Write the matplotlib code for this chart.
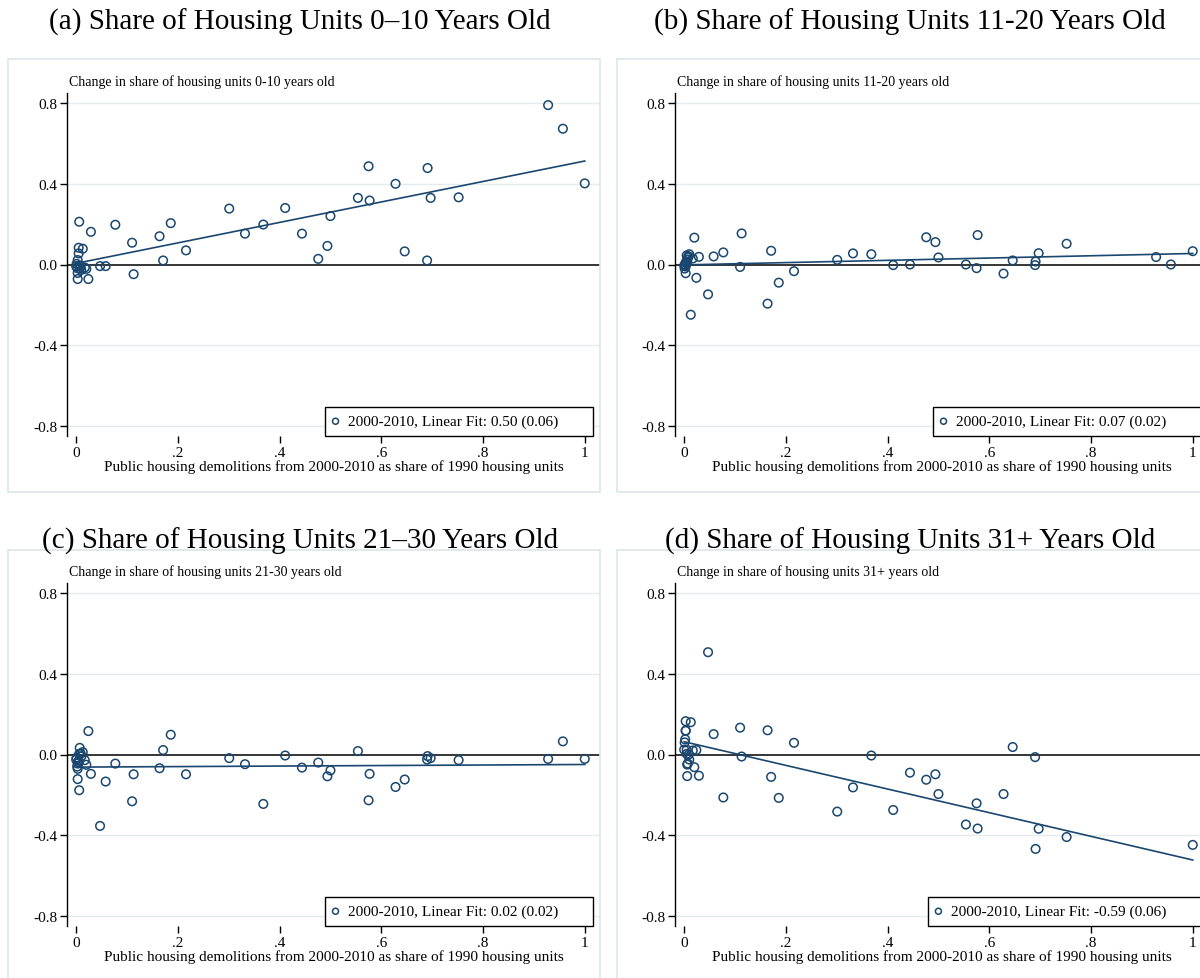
import numpy as np
import matplotlib
matplotlib.use("Agg")
import matplotlib.pyplot as plt
from matplotlib.patches import Rectangle

plt.rcParams['font.family'] = ['Liberation Serif', 'DejaVu Serif']

# demolitions 2000-2010 as share of 1990 housing units (same tracts in every panel)
demo_share = [1.000, 0.957, 0.928, 0.752, 0.697, 0.691, 0.690, 0.646, 0.628, 0.577,
              0.575, 0.554, 0.500, 0.494, 0.476, 0.444, 0.411, 0.368, 0.332, 0.301,
              0.216, 0.186, 0.171, 0.164, 0.113, 0.110, 0.077, 0.058, 0.047, 0.029,
              0.024, 0.020, 0.017, 0.013, 0.010, 0.009, 0.007, 0.006, 0.006, 0.005,
              0.005, 0.003, 0.003, 0.003, 0.002, 0.001, 0.000]

chg_0_10 = [0.402, 0.673, 0.790, 0.333, 0.330, 0.478, 0.020, 0.065, 0.400, 0.317,
            0.487, 0.330, 0.240, 0.092, 0.028, 0.153, 0.280, 0.198, 0.153, 0.277,
            0.070, 0.205, 0.020, 0.140, -0.048, 0.108, 0.197, -0.008, -0.008, 0.162,
            -0.072, -0.022, -0.015, 0.078, -0.027, -0.010, -0.020, 0.212, -0.005, 0.083,
            0.055, 0.022, -0.042, -0.072, -0.018, 0.003, -0.008]

chg_11_20 = [0.066, 0.000, 0.037, 0.103, 0.056, 0.015, -0.003, 0.020, -0.045, 0.146,
             -0.018, 0.000, 0.035, 0.111, 0.135, 0.000, -0.003, 0.051, 0.055, 0.023,
             -0.033, -0.090, 0.068, -0.194, 0.154, -0.012, 0.060, 0.040, -0.148, 0.038,
             -0.066, 0.133, 0.030, -0.249, 0.051, 0.040, 0.035, 0.025, 0.015, 0.045,
             0.005, -0.043, 0.010, -0.010, 0.000, -0.020, -0.005]

chg_21_30 = [-0.022, 0.065, -0.022, -0.028, -0.018, -0.008, -0.025, -0.124, -0.161, -0.096,
             -0.227, 0.017, -0.079, -0.108, -0.040, -0.065, -0.005, -0.245, -0.048, -0.018,
             -0.098, 0.098, 0.022, -0.068, -0.098, -0.232, -0.045, -0.134, -0.354, -0.096,
             0.116, -0.051, -0.028, 0.012, -0.010, 0.005, 0.033, -0.177, 0.003, -0.038,
             -0.030, -0.071, -0.122, -0.045, -0.060, -0.015, -0.025]

chg_31_plus = [-0.448, -0.738, -0.805, -0.409, -0.368, -0.468, -0.013, 0.037, -0.196, -0.367,
               -0.242, -0.347, -0.196, -0.098, -0.125, -0.090, -0.275, -0.005, -0.163, -0.283,
               0.058, -0.215, -0.111, 0.120, -0.010, 0.133, -0.213, 0.101, 0.507, -0.105,
               0.022, -0.063, 0.020, 0.160, -0.025, 0.000, -0.045, -0.050, -0.107, 0.024,
               0.003, 0.165, 0.118, 0.118, 0.075, 0.060, 0.024]

panel_titles = ["(a) Share of Housing Units 0\u201310 Years Old",
                "(b) Share of Housing Units 11-20 Years Old",
                "(c) Share of Housing Units 21\u201330 Years Old",
                "(d) Share of Housing Units 31+ Years Old"]
ylabels = ["Change in share of housing units 0-10 years old",
           "Change in share of housing units 11-20 years old",
           "Change in share of housing units 21-30 years old",
           "Change in share of housing units 31+ years old"]
fit_labels = ["2000-2010, Linear Fit: 0.50 (0.06)",
              "2000-2010, Linear Fit: 0.07 (0.02)",
              "2000-2010, Linear Fit: 0.02 (0.02)",
              "2000-2010, Linear Fit: -0.59 (0.06)"]
yticks = [-0.8, -0.4, 0.0, 0.4, 0.8]
ytick_labels = ["-0.8", "-0.4", "0.0", "0.4", "0.8"]
xticks = [0, 0.2, 0.4, 0.6, 0.8, 1.0]
xtick_labels = ["0", ".2", ".4", ".6", ".8", "1"]
xlabel = "Public housing demolitions from 2000-2010 as share of 1990 housing units"

W, H = 1200, 979
AW, AH = 533, 343
navy = '#1a476f'
grid_c = '#e4ecef'
frame_c = '#dbe5e9'

fig = plt.figure(figsize=(W / 100, H / 100), dpi=100)

series = [chg_0_10, chg_11_20, chg_21_30, chg_31_plus]
# pixel layout: (axes left, axes top, frame left, frame top, title centre x, title y)
layout = [(67, 94, 8, 60, 300, 22),
          (675, 94, 617, 60, 910, 22),
          (67, 584, 8, 551, 300, 541),
          (675, 584, 617, 551, 910, 541)]

x = np.array(demo_share)
axes, legends = [], []
for i, y in enumerate(series):
    y = np.array(y)
    axl, axt, fl, ft, tx, ty = layout[i]
    fig.patches.append(Rectangle((fl / W, 1 - (ft + 433) / H), 592 / W, 433 / H,
                                 transform=fig.transFigure, fill=False,
                                 edgecolor=frame_c, lw=1.2))
    fig.text(tx / W, 1 - ty / H, panel_titles[i], ha='center', va='center', fontsize=21)

    ax = fig.add_axes([axl / W, 1 - (axt + AH) / H, AW / W, AH / H])
    ax.set_xlim(-0.018, 1.03)
    ax.set_ylim(-0.85, 0.85)
    for s in ['top', 'right', 'bottom']:
        ax.spines[s].set_visible(False)
    ax.spines['left'].set_linewidth(1.0)
    for g in [-0.8, -0.4, 0.4, 0.8]:
        ax.axhline(g, color=grid_c, lw=1.0, zorder=0)
    ax.axhline(0, color='black', lw=1.1, zorder=1)

    ax.scatter(x, y, s=38, facecolors='none', edgecolors=navy, linewidths=1.1, zorder=3,
               label=fit_labels[i])
    b, a = np.polyfit(x, y, 1)
    xs = np.array([x.min(), x.max()])
    ax.plot(xs, a + b * xs, color=navy, lw=1.2, zorder=2)

    ax.set_yticks(yticks)
    ax.set_yticklabels(ytick_labels)
    ax.set_xticks(xticks)
    ax.set_xticklabels(xtick_labels)
    ax.tick_params(axis='both', length=5, width=1.0, labelsize=11, pad=2)
    ax.set_xlabel(xlabel, fontsize=11, labelpad=0)
    fig.text((axl + 2) / W, 1 - (axt - 12) / H, ylabels[i], ha='left', va='center',
             fontsize=10)

    # legend text sits left in a wider box (extra space on the right)
    leg = ax.legend(loc='center right', bbox_to_anchor=(491 / AW, 14.5 / AH),
                    borderaxespad=0, borderpad=0, fontsize=11, frameon=False,
                    handletextpad=0.3, handlelength=1.0, markerscale=0.7)
    leg.set_zorder(6)
    axes.append(ax)
    legends.append(leg)

fig.canvas.draw()
for ax, leg in zip(axes, legends):
    bb = leg.get_window_extent().transformed(ax.transAxes.inverted())
    left = bb.x0 - 3 / AW
    right = 526 / AW
    ax.add_patch(Rectangle((left, 0), right - left, 29 / AH, transform=ax.transAxes,
                           facecolor='white', edgecolor='black', lw=1.0, zorder=5,
                           clip_on=False))

fig.savefig('out.png', dpi=100)
